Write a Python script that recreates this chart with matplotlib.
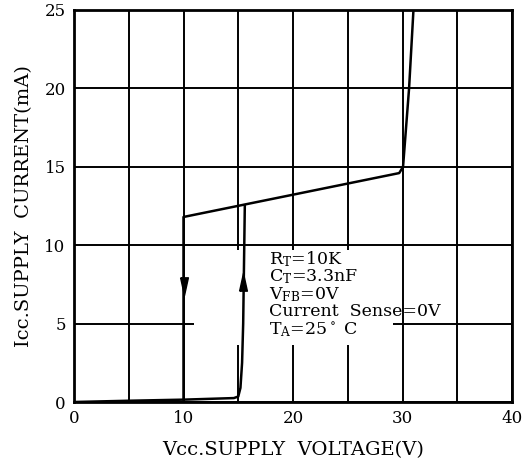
import numpy as np
import matplotlib
matplotlib.use("Agg")
from matplotlib import pyplot as plt
from matplotlib.path import Path
from matplotlib.patches import Rectangle

# curve data
rise_v = [0, 5, 10, 14.6, 15.0, 15.2, 15.35, 15.45, 15.6]
rise_i = [0, 0.08, 0.15, 0.25, 0.35, 0.9, 2.5, 5.0, 12.55]
fall_v = [10, 10, 29.7, 30.05, 30.6, 31.0]
fall_i = [0.15, 11.8, 14.6, 15.0, 20.0, 25.0]
arrow_down = (10, 7.5)
arrow_up = (15.45, 7.5)

x_ticks = [0, 10, 20, 30, 40]
y_ticks = [0, 5, 10, 15, 20, 25]
notes = [r"R$_\mathregular{T}$=10K", r"C$_\mathregular{T}$=3.3nF",
         r"V$_\mathregular{FB}$=0V", "Current  Sense=0V",
         r"T$_\mathregular{A}$=25$^\circ$ C"]

plt.rcParams["font.family"] = "DejaVu Serif"
plt.rcParams["mathtext.fontset"] = "dejavuserif"

fig = plt.figure(figsize=(5.26, 4.65), dpi=100)
ax = fig.add_axes([74 / 526, 1 - 402 / 465, 438 / 526, 392 / 465])

ax.set_xlim(0, 40)
ax.set_ylim(0, 25)
ax.set_xticks(np.arange(0, 41, 5))
ax.set_yticks(np.arange(0, 26, 5))
ax.set_xticklabels([str(t) if t in x_ticks else "" for t in range(0, 41, 5)])
ax.set_yticklabels([str(t) for t in y_ticks])
ax.tick_params(length=0, labelsize=12, pad=6)
ax.grid(True, color="black", lw=1.4)
ax.set_axisbelow(True)
for s in ax.spines.values():
    s.set_linewidth(2)

# white area behind the notes
ax.add_patch(Rectangle((11, 3.65), 18.1, 6.05, facecolor="white",
                       edgecolor="none", zorder=1))

ax.plot(rise_v, rise_i, color="black", lw=1.8, zorder=3)
ax.plot(fall_v, fall_i, color="black", lw=1.8, zorder=3)

tri = Path([(-0.35, 0.6), (0.35, 0.6), (0, -1), (-0.35, 0.6)])
ax.plot(*arrow_down, marker=tri, ms=16, color="black", zorder=4)
tri_up = Path([(-0.35, -0.6), (0.35, -0.6), (0, 1), (-0.35, -0.6)])
ax.plot(*arrow_up, marker=tri_up, ms=16, color="black", zorder=4)

for k, t in enumerate(notes):
    ax.text(17.8, 9.1 - k * 1.12, t, fontsize=12.5, va="center", ha="left", zorder=4)

ax.set_xlabel("Vcc.SUPPLY  VOLTAGE(V)", fontsize=14, labelpad=10)
ax.set_ylabel("Icc.SUPPLY  CURRENT(mA)", fontsize=14, labelpad=8)

fig.savefig("out.png", dpi=100)
